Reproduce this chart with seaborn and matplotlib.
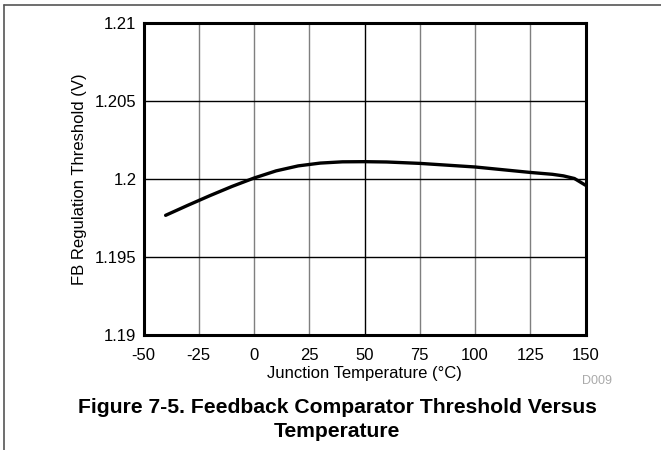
import pandas as pd
import matplotlib
matplotlib.use("Agg")
import matplotlib.pyplot as plt
import seaborn as sns
from matplotlib.lines import Line2D

# values
temp = [-40, -30, -20, -10, 0, 10, 20, 30, 40, 50, 60, 75, 100, 125, 135, 140, 145, 150]
threshold = [1.19767, 1.19831, 1.19893, 1.19952, 1.20006, 1.20052, 1.20084, 1.20102, 1.20110,
             1.20111, 1.20109, 1.20100, 1.20077, 1.20042, 1.20030, 1.20020, 1.20003, 1.19960]
xticks = [-50, -25, 0, 25, 50, 75, 100, 125, 150]
yticks = [1.19, 1.195, 1.2, 1.205, 1.21]
ytick_labels = ["1.19", "1.195", "1.2", "1.205", "1.21"]

sns.set_style("white")
plt.rcParams['font.family'] = ['Liberation Sans', 'DejaVu Sans']
plt.rcParams['axes.unicode_minus'] = False
plt.rcParams['text.color'] = 'black'
plt.rcParams['axes.labelcolor'] = 'black'

df = pd.DataFrame({"temp": temp, "threshold": threshold})

fig = plt.figure(figsize=(6.61, 4.5), dpi=100)
ax = fig.add_axes([0.2171, 0.2556, 0.6687, 0.6933])

# grid: vertical grey, horizontal black, centre vertical black
for x in xticks[1:-1]:
    ax.axvline(x, color="black" if x == 50 else "#7f7f7f", lw=1.0, zorder=1)
for y in yticks[1:-1]:
    ax.axhline(y, color="black", lw=1.0, zorder=1)

sns.lineplot(data=df, x="temp", y="threshold", ax=ax, color="black", lw=2.4, zorder=3)

ax.set_xlim(-50, 150)
ax.set_ylim(1.19, 1.21)
ax.set_xticks(xticks)
ax.set_yticks(yticks)
ax.set_yticklabels(ytick_labels)
ax.tick_params(length=0, labelsize=12, colors="black")
ax.tick_params(axis="x", pad=9.5)
ax.tick_params(axis="y", pad=5)
for s in ax.spines.values():
    s.set_linewidth(2.2)
    s.set_color("black")

ax.set_xlabel("Junction Temperature (°C)", fontsize=12, labelpad=2)
ax.set_ylabel("FB Regulation Threshold (V)", fontsize=12, labelpad=6)

fig.text(596.7 / 661, 1 - 380.7 / 450, "D009", fontsize=9, color="#aaaaaa", ha="center", va="center")
fig.text(337 / 661, 1 - 407.3 / 450, "Figure 7-5. Feedback Comparator Threshold Versus",
         fontsize=15.2, fontweight="bold", ha="center", va="center")
fig.text(337 / 661, 1 - 431.7 / 450, "Temperature",
         fontsize=15.2, fontweight="bold", ha="center", va="center")

# page frame lines
fig.add_artist(Line2D([4 / 661, 1], [1 - 5 / 450, 1 - 5 / 450], color="#555555", lw=1.2))
fig.add_artist(Line2D([4 / 661, 4 / 661], [0, 1 - 5 / 450], color="#555555", lw=1.2))

fig.savefig("out.png", dpi=100)
